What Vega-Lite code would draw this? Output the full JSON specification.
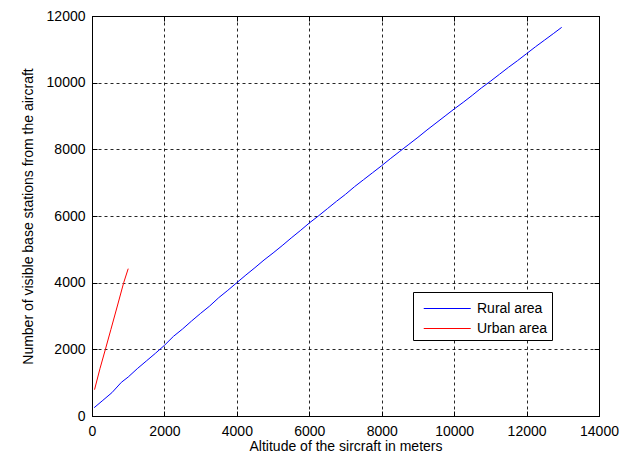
{
  "$schema": "https://vega.github.io/schema/vega-lite/v6.json",
  "width": 507,
  "height": 400,
  "autosize": "none",
  "padding": {"left": 92, "top": 16, "right": 22, "bottom": 39},
  "background": "white",
  "config": {
    "font": "Liberation Sans",
    "view": {"stroke": "#000", "strokeWidth": 1},
    "axis": {
      "labelFont": "Liberation Sans",
      "titleFont": "Liberation Sans",
      "labelFontSize": 14,
      "titleFontSize": 14,
      "titleFontWeight": "normal",
      "labelColor": "#000",
      "titleColor": "#000",
      "domainColor": "#000",
      "tickColor": "#000",
      "tickSize": -5,
      "labelFlush": false,
      "gridColor": "#000",
      "gridDash": [3, 3],
      "gridOpacity": 0.85
    }
  },
  "data": {
    "values": [
      {"series": "Rural area", "alt": 60, "n": 250},
      {"series": "Rural area", "alt": 300, "n": 470},
      {"series": "Rural area", "alt": 550, "n": 700},
      {"series": "Rural area", "alt": 810, "n": 1010},
      {"series": "Rural area", "alt": 1000, "n": 1170},
      {"series": "Rural area", "alt": 1250, "n": 1420},
      {"series": "Rural area", "alt": 1500, "n": 1650},
      {"series": "Rural area", "alt": 1750, "n": 1880},
      {"series": "Rural area", "alt": 2000, "n": 2120},
      {"series": "Rural area", "alt": 2250, "n": 2390},
      {"series": "Rural area", "alt": 2500, "n": 2610},
      {"series": "Rural area", "alt": 2750, "n": 2850},
      {"series": "Rural area", "alt": 3000, "n": 3080},
      {"series": "Rural area", "alt": 3250, "n": 3300},
      {"series": "Rural area", "alt": 3500, "n": 3550},
      {"series": "Rural area", "alt": 3750, "n": 3770},
      {"series": "Rural area", "alt": 4000, "n": 4000},
      {"series": "Rural area", "alt": 4250, "n": 4230},
      {"series": "Rural area", "alt": 4500, "n": 4450},
      {"series": "Rural area", "alt": 4750, "n": 4680},
      {"series": "Rural area", "alt": 5000, "n": 4890},
      {"series": "Rural area", "alt": 5250, "n": 5110},
      {"series": "Rural area", "alt": 5500, "n": 5340},
      {"series": "Rural area", "alt": 5750, "n": 5560},
      {"series": "Rural area", "alt": 6000, "n": 5790},
      {"series": "Rural area", "alt": 6250, "n": 6000},
      {"series": "Rural area", "alt": 6500, "n": 6220},
      {"series": "Rural area", "alt": 6750, "n": 6440},
      {"series": "Rural area", "alt": 7000, "n": 6650},
      {"series": "Rural area", "alt": 7250, "n": 6880},
      {"series": "Rural area", "alt": 7500, "n": 7090},
      {"series": "Rural area", "alt": 7750, "n": 7300},
      {"series": "Rural area", "alt": 8000, "n": 7510},
      {"series": "Rural area", "alt": 8250, "n": 7730},
      {"series": "Rural area", "alt": 8500, "n": 7940},
      {"series": "Rural area", "alt": 8750, "n": 8150},
      {"series": "Rural area", "alt": 9000, "n": 8360},
      {"series": "Rural area", "alt": 9250, "n": 8580},
      {"series": "Rural area", "alt": 9500, "n": 8790},
      {"series": "Rural area", "alt": 9750, "n": 9000},
      {"series": "Rural area", "alt": 10000, "n": 9210},
      {"series": "Rural area", "alt": 10250, "n": 9410},
      {"series": "Rural area", "alt": 10500, "n": 9620},
      {"series": "Rural area", "alt": 10750, "n": 9840},
      {"series": "Rural area", "alt": 11000, "n": 10040},
      {"series": "Rural area", "alt": 11250, "n": 10250},
      {"series": "Rural area", "alt": 11500, "n": 10460},
      {"series": "Rural area", "alt": 11750, "n": 10660},
      {"series": "Rural area", "alt": 12000, "n": 10870},
      {"series": "Rural area", "alt": 12250, "n": 11080},
      {"series": "Rural area", "alt": 12500, "n": 11280},
      {"series": "Rural area", "alt": 12750, "n": 11480},
      {"series": "Rural area", "alt": 12970, "n": 11660},
      {"series": "Urban area", "alt": 70, "n": 790},
      {"series": "Urban area", "alt": 220, "n": 1420},
      {"series": "Urban area", "alt": 370, "n": 2000},
      {"series": "Urban area", "alt": 520, "n": 2590},
      {"series": "Urban area", "alt": 700, "n": 3300},
      {"series": "Urban area", "alt": 875, "n": 4000},
      {"series": "Urban area", "alt": 1000, "n": 4420}
    ]
  },
  "layer": [
    {
      "mark": {"type": "line", "strokeWidth": 1, "clip": true},
      "encoding": {
        "x": {
          "field": "alt", "type": "quantitative",
          "scale": {"domain": [0, 14000], "nice": false},
          "axis": {"values": [0, 2000, 4000, 6000, 8000, 10000, 12000, 14000], "format": "d", "grid": true, "labelPadding": 13, "title": "Altitude of the sircraft in meters", "titlePadding": 1}
        },
        "y": {
          "field": "n", "type": "quantitative",
          "scale": {"domain": [0, 12000], "nice": false},
          "axis": {"values": [0, 2000, 4000, 6000, 8000, 10000, 12000], "format": "d", "grid": true, "labelPadding": 12, "title": "Number of visible base stations from the aircraft", "titlePadding": 11}
        },
        "color": {
          "field": "series", "type": "nominal",
          "scale": {"domain": ["Rural area", "Urban area"], "range": ["#0000ff", "#ff0000"]},
          "legend": {
            "title": null,
            "orient": "none",
            "legendX": 321,
            "legendY": 276,
            "symbolType": "M-0.49,0H3.51",
            "symbolSize": 552,
            "symbolStrokeWidth": 1,
            "labelFontSize": 14,
            "labelColor": "#000",
            "labelFont": "Liberation Sans",
            "fillColor": "#fff",
            "strokeColor": "#000",
            "padding": 4,
            "rowPadding": 0,
            "labelOffset": 35
          }
        }
      }
    },
    {
      "mark": {"type": "line", "strokeOpacity": 0},
      "encoding": {
        "x": {"field": "alt", "type": "quantitative", "axis": {"orient": "top", "values": [0, 2000, 4000, 6000, 8000, 10000, 12000, 14000], "labels": false, "title": null, "grid": false}},
        "y": {"field": "n", "type": "quantitative", "axis": {"orient": "right", "values": [0, 2000, 4000, 6000, 8000, 10000, 12000], "labels": false, "title": null, "grid": false}},
        "detail": {"field": "series"}
      }
    }
  ],
  "resolve": {"axis": {"x": "independent", "y": "independent"}}
}
